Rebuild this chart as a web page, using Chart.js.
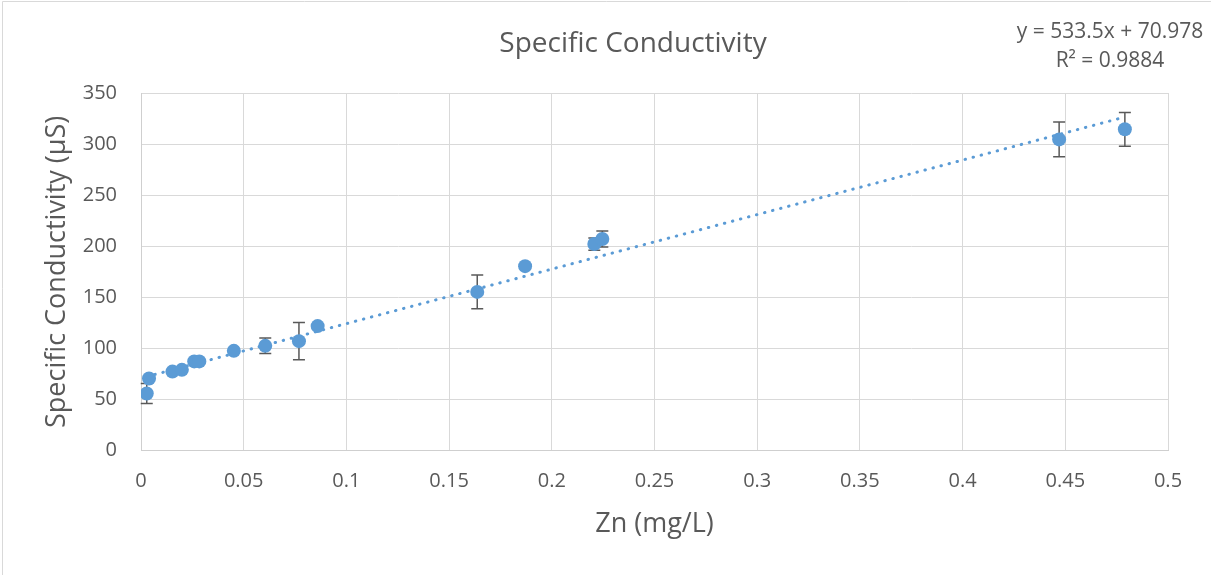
<!DOCTYPE html>
<html>
<head>
<meta charset="utf-8">
<script src="https://cdn.jsdelivr.net/npm/chart.js@4/dist/chart.umd.min.js"></script>
<style>
  body { margin: 0; background: #fff; }
  #wrap { width: 1211px; height: 575px; }
</style>
</head>
<body>
<div id="wrap"><canvas id="scatter-chartcanvas" width="1211" height="575"></canvas></div>
<script>
// values
var znValues = [0.0028, 0.0039, 0.0153, 0.0199, 0.0259, 0.0284, 0.0452, 0.0605, 0.0769, 0.0860, 0.1637, 0.1870, 0.2207, 0.2246, 0.4470, 0.4790];
var conductivity = [56.0, 70.7, 77.4, 79.1, 87.4, 87.4, 97.7, 102.6, 107.2, 121.9, 155.4, 180.6, 202.2, 207.1, 304.6, 314.5];
var errorValues = [9.8, 0, 0, 0, 0, 0, 0, 7.6, 18.2, 0, 16.6, 0, 6.0, 7.8, 17.0, 16.5];

var xTicks = [0, 0.05, 0.1, 0.15, 0.2, 0.25, 0.3, 0.35, 0.4, 0.45, 0.5];
var yTicks = [0, 50, 100, 150, 200, 250, 300, 350];

// trendline as printed on the chart
var trendSlope = 533.5;
var trendIntercept = 70.978;
var trendLabel = ["y = 533.5x + 70.978", "R² = 0.9884"];
var chartTitle = "Specific Conductivity";

var textColor = "#595959";
var blue = "#5B9BD5";
var gridColor = "#D9D9D9";

Chart.defaults.font.family = "'Open Sans', sans-serif";
Chart.defaults.color = textColor;

var points = [];
for (var i = 0; i < znValues.length; i++) {
	points.push({ x: znValues[i], y: conductivity[i] });
}

var xFirst = znValues[0];
var xLast = znValues[znValues.length - 1];
var trendPoints = [
	{ x: xFirst, y: trendSlope * xFirst + trendIntercept },
	{ x: xLast, y: trendSlope * xLast + trendIntercept }
];

// error bars, drawn under the markers
var errorBars = {
	id: "errorBars",
	beforeDatasetsDraw: function(chart) {
		var ctx = chart.ctx;
		var xs = chart.scales.x, ys = chart.scales.y;
		ctx.save();
		ctx.strokeStyle = "#595959";
		ctx.lineWidth = 1.5;
		for (var i = 0; i < znValues.length; i++) {
			if (!errorValues[i]) continue;
			var px = xs.getPixelForValue(znValues[i]);
			var top = ys.getPixelForValue(conductivity[i] + errorValues[i]);
			var bot = ys.getPixelForValue(conductivity[i] - errorValues[i]);
			ctx.beginPath();
			ctx.moveTo(px, top); ctx.lineTo(px, bot);
			ctx.moveTo(px - 6, top); ctx.lineTo(px + 6, top);
			ctx.moveTo(px - 6, bot); ctx.lineTo(px + 6, bot);
			ctx.stroke();
		}
		ctx.restore();
	}
};

// title, trendline equation and chart frame
var extras = {
	id: "extras",
	afterDraw: function(chart) {
		var ctx = chart.ctx;
		ctx.save();
		ctx.strokeStyle = gridColor;
		ctx.lineWidth = 1;
		ctx.beginPath();
		ctx.moveTo(2.5, 575); ctx.lineTo(2.5, 1.5); ctx.lineTo(1211, 1.5);
		ctx.stroke();
		ctx.fillStyle = textColor;
		ctx.textAlign = "center";
		ctx.textBaseline = "middle";
		ctx.font = "28px 'Open Sans', sans-serif";
		ctx.fillText(chartTitle, 633, 44);
		ctx.font = "21px 'Open Sans', sans-serif";
		ctx.fillText(trendLabel[0], 1110, 32);
		ctx.fillText(trendLabel[1], 1110, 61);
		ctx.restore();
	}
};

var ctx = document.getElementById("scatter-chartcanvas");

var chart = new Chart(ctx, {
	type: "scatter",
	data: {
		datasets: [
			{
				label: "Specific Conductivity",
				data: points,
				backgroundColor: blue,
				borderColor: blue,
				borderWidth: 0,
				pointRadius: 7,
				pointHoverRadius: 7
			},
			{
				label: "Linear trend",
				data: trendPoints,
				showLine: true,
				borderColor: blue,
				borderWidth: 3,
				borderDash: [0.5, 7.8],
				borderCapStyle: "round",
				pointRadius: 0,
				fill: false
			}
		]
	},
	options: {
		responsive: false,
		animation: false,
		layout: { padding: { left: 0, right: 43, top: 93, bottom: 0 } },
		plugins: {
			legend: { display: false },
			tooltip: { enabled: false },
			title: { display: false }
		},
		scales: {
			x: {
				type: "linear",
				min: 0,
				max: 0.5,
				afterBuildTicks: function(scale) {
					scale.ticks = xTicks.map(function(v) { return { value: v }; });
				},
				afterFit: function(scale) { scale.height = 124.3; },
				grid: { color: gridColor, drawTicks: false },
				border: { color: "#CFCFCF" },
				ticks: {
					padding: 19,
					font: { size: 20 },
					color: textColor,
					callback: function(v) { return String(Number(v.toFixed(2))); }
				},
				title: {
					display: true,
					text: "Zn (mg/L)",
					color: textColor,
					font: { size: 27 },
					padding: { top: 0, bottom: 34 }
				}
			},
			y: {
				type: "linear",
				min: 0,
				max: 350,
				afterBuildTicks: function(scale) {
					scale.ticks = yTicks.map(function(v) { return { value: v }; });
				},
				afterFit: function(scale) { scale.width = 141; },
				grid: { color: gridColor, drawTicks: false },
				border: { color: "#CFCFCF" },
				ticks: {
					padding: 24,
					font: { size: 20 },
					color: textColor
				},
				title: {
					display: true,
					text: "Specific Conductivity (μS)",
					color: textColor,
					font: { size: 27 },
					padding: { top: 41, bottom: 0 }
				}
			}
		}
	},
	plugins: [errorBars, extras]
});
</script>
</body>
</html>
